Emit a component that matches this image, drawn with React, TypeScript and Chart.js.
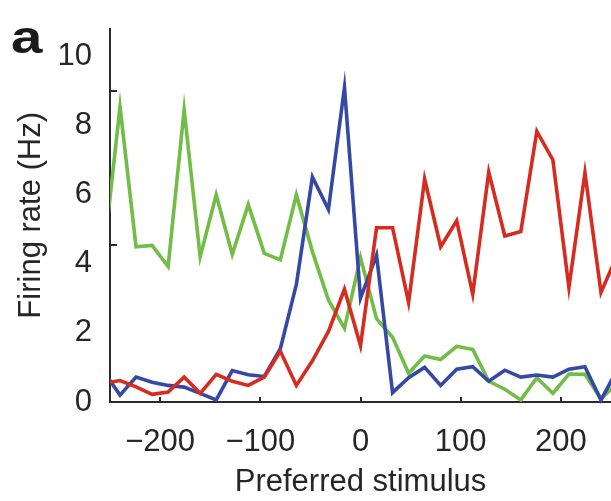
import { useEffect, useRef } from "react";
import { Chart, registerables } from "chart.js";

Chart.register(...registerables);

// Preferred stimulus bin centres (the first and last bins lie just outside the visible axis range)
const stimulus = [
  -256, -240, -224, -208, -192, -176, -160, -144, -128, -112, -96, -80, -64, -48, -32, -16,
  0, 16, 32, 48, 64, 80, 96, 112, 128, 144, 160, 176, 192, 208, 224, 240, 256,
];

// Firing rates (Hz)
const greenRates = [
  4.32, 8.54, 4.49, 4.53, 3.92, 8.45, 4.2, 5.99, 4.27, 5.71, 4.3, 4.11, 5.99, 4.35, 2.95, 2.13,
  4.18, 2.41, 1.87, 0.83, 1.33, 1.23, 1.61, 1.52, 0.6, 0.37, 0.06, 0.7, 0.25, 0.81, 0.8, 0.09, 0.54,
];
const blueRates = [
  0.87, 0.2, 0.72, 0.57, 0.48, 0.43, 0.25, 0.06, 0.91, 0.79, 0.74, 1.54, 3.4, 6.51, 5.57, 9.1,
  3.0, 4.25, 0.27, 0.7, 1.0, 0.48, 0.95, 1.02, 0.6, 0.92, 0.72, 0.78, 0.72, 0.95, 1.02, 0.06, 0.92,
];
const redRates = [
  0.54, 0.62, 0.44, 0.22, 0.29, 0.72, 0.25, 0.8, 0.6, 0.48, 0.72, 1.47, 0.48, 1.19, 2.04, 3.26,
  1.63, 5.04, 5.04, 2.88, 6.45, 4.49, 5.24, 3.12, 6.65, 4.8, 4.93, 7.83, 7.0, 3.31, 6.63, 3.17, 4.23,
];

const xTickValues = [-200, -100, 0, 100, 200];
const yTickValues = [0, 2, 4, 6, 8, 10];
const yTickMarks = [9, 4.55];

const FONT = "'Liberation Sans', Arial, Helvetica, sans-serif";
const TEXT = "#262626";
const AXIS = "#2a2a2a";

const fmt = (v: number) => (v < 0 ? "\u2212" + Math.abs(v) : String(v));

const tickMarkPlugin = {
  id: "inwardTicks",
  afterDatasetsDraw(chart: any) {
    const { ctx, scales } = chart;
    const xs = scales.x;
    const ys = scales.y;
    ctx.save();
    ctx.strokeStyle = AXIS;
    ctx.lineWidth = 2;
    ctx.beginPath();
    for (const v of xTickValues) {
      const px = Math.round(xs.getPixelForValue(v));
      ctx.moveTo(px, ys.bottom);
      ctx.lineTo(px, ys.bottom - 5);
    }
    for (const v of yTickMarks) {
      const py = Math.round(ys.getPixelForValue(v));
      ctx.moveTo(xs.left, py);
      ctx.lineTo(xs.left + 7, py);
    }
    ctx.stroke();
    ctx.restore();
  },
};

export default function App() {
  const ref = useRef<HTMLCanvasElement>(null);

  useEffect(() => {
    if (!ref.current) return;
    const pts = (ys: number[]) => stimulus.map((x, i) => ({ x, y: ys[i] }));
    const line = (data: number[], color: string) => ({
      data: pts(data),
      borderColor: color,
      backgroundColor: color,
      borderWidth: 3.6,
      pointRadius: 0,
      tension: 0,
      fill: false,
      clip: { left: 0, right: 0, top: 4, bottom: 4 },
    });
    const chart = new Chart(ref.current, {
      type: "line",
      data: {
        datasets: [
          { label: "red", ...line(redRates, "#d62b1f") },
          { label: "blue", ...line(blueRates, "#3548a6") },
          { label: "green", ...line(greenRates, "#71bd46") },
        ],
      },
      options: {
        animation: false,
        responsive: true,
        maintainAspectRatio: false,
        layout: { padding: { top: 20, left: 0, right: 0, bottom: 0 } },
        plugins: { legend: { display: false }, tooltip: { enabled: false } },
        scales: {
          x: {
            type: "linear",
            min: -250,
            max: 250,
            afterBuildTicks: (s: any) => {
              s.ticks = xTickValues.map((v) => ({ value: v }));
            },
            afterFit: (s: any) => {
              s.height = 99;
            },
            grid: { display: false },
            border: { display: true, color: AXIS, width: 2 },
            ticks: {
              padding: 14,
              autoSkip: false,
              maxRotation: 0,
              color: TEXT,
              font: { family: FONT, size: 31 },
              callback: (v: any) => fmt(Number(v)),
            },
            title: {
              display: true,
              text: "Preferred stimulus",
              color: TEXT,
              font: { family: FONT, size: 31 },
              padding: { top: 0, bottom: 0 },
            },
          },
          y: {
            type: "linear",
            min: 0,
            max: 10.8,
            afterBuildTicks: (s: any) => {
              s.ticks = yTickValues.map((v) => ({ value: v }));
            },
            afterFit: (s: any) => {
              s.width = 110;
            },
            grid: { display: false },
            border: { display: true, color: AXIS, width: 2 },
            ticks: {
              padding: 10,
              color: TEXT,
              font: { family: FONT, size: 31 },
              callback: (v: any) => fmt(Number(v)),
            },
            title: {
              display: true,
              text: "Firing rate (Hz)",
              color: TEXT,
              font: { family: FONT, size: 31 },
              padding: { top: 13, bottom: 0 },
            },
          },
        },
      },
      plugins: [tickMarkPlugin],
    } as any);
    return () => chart.destroy();
  }, []);

  return (
    <div
      style={{
        position: "fixed",
        left: 0,
        top: 0,
        width: 611,
        height: 501,
        background: "#ffffff",
        overflow: "hidden",
      }}
    >
      <div style={{ position: "absolute", left: 0, top: 0, width: 611, height: 501 }}>
        <canvas ref={ref} />
      </div>
      <span
        style={{
          position: "absolute",
          left: 11,
          top: 14,
          fontFamily: FONT,
          fontWeight: 700,
          fontSize: 47,
          lineHeight: "45px",
          color: "#1a1a1a",
          transform: "scaleX(1.2)",
          transformOrigin: "left top",
        }}
      >
        a
      </span>
    </div>
  );
}
